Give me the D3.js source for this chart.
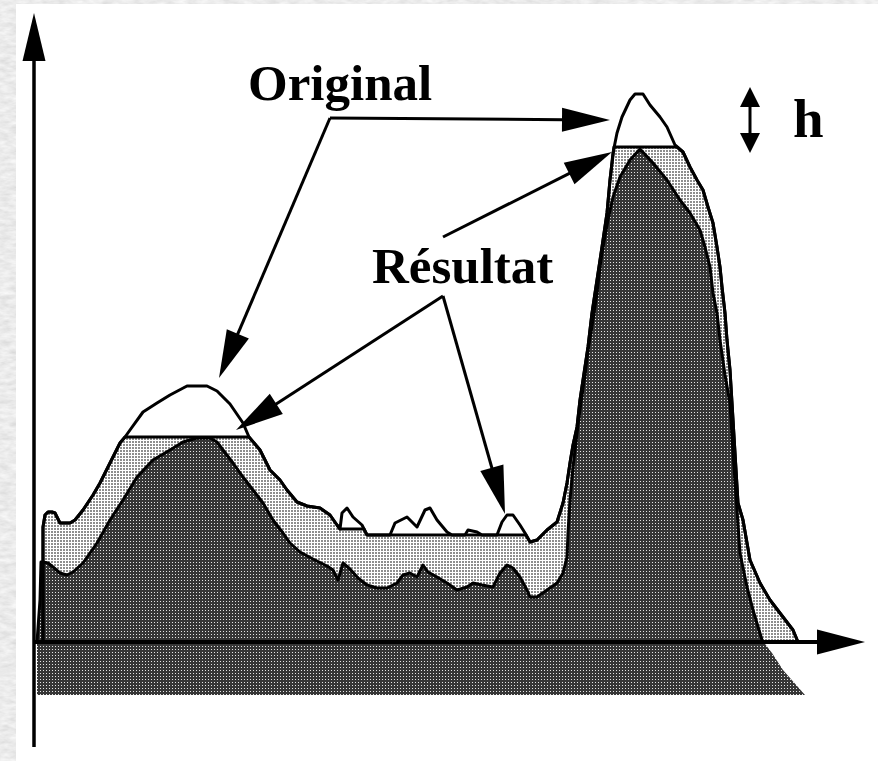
<!DOCTYPE html>
<html>
<head>
<meta charset="utf-8">
<script src="https://cdn.jsdelivr.net/npm/d3@7"></script>
<style>
  html, body { margin: 0; padding: 0; background: #fff; }
  svg { display: block; }
</style>
</head>
<body>
<svg id="chart" width="878" height="761"></svg>
<script>
// Profile of the original signal: [position, grey level]
const original = [
  [9,0],[9,115],[11,127],[14,130],[18,130],[21,129],[23,125],[26,119],[36,119],[41,122],
  [49,132],[59,147],[66,159],[76,179],[86,199],[91,205],[96,212],[109,230],[123,239],[136,247],
  [153,256],[173,256],[183,251],[196,238],[209,219],[215,205],[226,192],[236,172],[246,162],[253,152],
  [263,140],[273,136],[286,134],[296,127],[303,117],[306,113],[308,129],[313,134],[319,125],[328,117],
  [333,107],[356,107],[361,119],[373,125],[383,115],[391,132],[396,134],[403,122],[413,110],[418,107],
  [431,107],[434,112],[443,110],[448,107],[463,107],[468,120],[473,127],[479,127],[486,117],[491,109],
  [496,100],[503,102],[513,112],[523,120],[529,139],[533,159],[536,179],[539,197],[543,215],[546,242],
  [549,262],[554,295],[558,329],[563,362],[568,395],[573,429],[576,462],[579,489],[583,509],[588,525],
  [596,542],[601,548],[609,548],[616,537],[626,525],[633,515],[641,497],[649,490],[656,475],[663,462],
  [669,452],[674,435],[679,419],[683,395],[686,375],[688,355],[691,329],[693,302],[696,272],[698,239],
  [701,189],[704,139],[709,122],[716,82],[726,59],[736,42],[749,25],[759,12],[764,0]
];

// Reconstructed result: the original with its domes levelled off
const result = [
  [9,0],[9,115],[11,127],[14,130],[18,130],[21,129],[23,125],[26,119],[36,119],[41,122],
  [49,132],[59,147],[66,159],[76,179],[86,199],[91,205],[215,205],[226,192],[236,172],[246,162],[253,152],
  [263,140],[273,136],[286,134],[296,127],[303,117],[306,113],[330,113],[333,107],[492,107],
  [496,100],[503,102],[513,112],[523,120],[529,139],[533,159],[536,179],[539,197],[543,215],[546,242],
  [549,262],[554,295],[558,329],[563,362],[568,395],[573,429],[576,462],[580,495],[643,495],[649,490],
  [656,475],[663,462],[669,452],[674,435],[679,419],[683,395],[686,375],[688,355],[691,329],[693,302],
  [696,272],[698,239],[701,189],[704,139],[709,122],[716,82],[726,59],[736,42],[749,25],[759,12],[764,0]
];

// Marker: original lowered by h
const marker = [
  [3,-53],[3,0],[6,42],[7,80],[9,80],[14,79],[19,75],[26,69],[33,67],[39,70],
  [49,79],[63,99],[76,122],[89,142],[103,165],[119,182],[136,192],[149,200],[163,204],[176,204],
  [183,200],[189,192],[199,179],[209,165],[219,152],[229,139],[239,122],[249,109],[256,99],[266,90],
  [279,83],[293,76],[299,72],[304,62],[309,79],[316,73],[324,64],[333,57],[343,54],[353,54],
  [363,59],[369,67],[376,69],[383,65],[389,77],[394,70],[403,65],[413,59],[423,52],[433,55],
  [439,59],[448,57],[459,55],[466,69],[473,77],[479,74],[486,65],[493,52],[496,45],[503,45],
  [513,52],[523,59],[529,69],[533,85],[534,109],[536,142],[539,175],[541,192],[544,217],[548,247],
  [551,267],[554,292],[559,322],[563,349],[566,375],[569,395],[574,422],[579,445],[586,465],[596,482],
  [606,493],[619,479],[633,462],[646,442],[656,429],[666,412],[671,395],[676,375],[679,349],[683,329],
  [686,302],[691,267],[696,239],[699,189],[703,132],[706,89],[713,55],[719,32],[728,2],[738,-11],
  [749,-28],[771,-53]
];

const markerFloor = -53;

// Labels and callout arrows
const labels = [
  { text: "Original", at: [214, 542], size: 51 },
  { text: "Résultat", at: [338, 359], size: 51 },
  { text: "h", at: [759, 505], size: 55 }
];
const callouts = [
  { from: [296, 524], to: [576, 522] },
  { from: [296, 524], to: [185, 264] },
  { from: [409, 405], to: [578, 490] },
  { from: [409, 346], to: [202, 212] },
  { from: [409, 346], to: [471, 128] }
];
const hMarker = { x: 716, top: 555, bottom: 489 };

const svg = d3.select("#chart");
const W = 878, H = 761;

const x = d3.scaleLinear().domain([0, 830]).range([34, 864]);
const y = d3.scaleLinear().domain([0, 642]).range([642, 0]);

const defs = svg.append("defs");

// grainy frame texture
const tex = defs.append("filter").attr("id", "grain")
  .attr("x", 0).attr("y", 0).attr("width", "100%").attr("height", "100%");
tex.append("feTurbulence").attr("type", "fractalNoise")
  .attr("baseFrequency", "0.09 0.22").attr("numOctaves", 3).attr("seed", 7).attr("result", "n");
tex.append("feColorMatrix").attr("type", "matrix")
  .attr("values", "0.3 0 0 0 0.68  0.3 0 0 0 0.68  0.3 0 0 0 0.68  0 0 0 0 1");

const light = defs.append("pattern").attr("id", "lightDots")
  .attr("width", 3).attr("height", 3).attr("patternUnits", "userSpaceOnUse");
light.append("rect").attr("width", 3).attr("height", 3).attr("fill", "#ffffff");
light.append("rect").attr("width", 2).attr("height", 2).attr("fill", "#8e8e8e");

const dark = defs.append("pattern").attr("id", "darkDots")
  .attr("width", 3).attr("height", 3).attr("patternUnits", "userSpaceOnUse");
dark.append("rect").attr("width", 3).attr("height", 3).attr("fill", "#363636");
dark.append("rect").attr("x", 1).attr("y", 1).attr("width", 1).attr("height", 1).attr("fill", "#e4e4e4");

defs.append("clipPath").attr("id", "aboveAxis")
  .append("rect").attr("x", 0).attr("y", 0).attr("width", W).attr("height", y(0));

// frame and white panel
svg.append("rect").attr("width", W).attr("height", H).attr("filter", "url(#grain)");
svg.append("rect").attr("x", 16).attr("y", 4).attr("width", W - 16).attr("height", H - 4).attr("fill", "#fff");

const line = d3.line().x(d => x(d[0])).y(d => y(d[1]));

// result area
svg.append("path")
  .datum(result)
  .attr("d", d3.area().x(d => x(d[0])).y0(y(0)).y1(d => y(d[1])))
  .attr("fill", "url(#lightDots)");

// marker area
svg.append("path")
  .datum(marker)
  .attr("d", d3.area().x(d => x(d[0])).y0(y(markerFloor)).y1(d => y(d[1])))
  .attr("fill", "url(#darkDots)");

// arrow: shaft from `from` to the base of a filled head at `to`
const axisEnd = 831;
function arrow(g, from, to, len, half, width) {
  const p0 = [x(from[0]), y(from[1])], p1 = [x(to[0]), y(to[1])];
  const dx = p1[0] - p0[0], dy = p1[1] - p0[1];
  const L = Math.hypot(dx, dy), ux = dx / L, uy = dy / L;
  const bx = p1[0] - ux * len, by = p1[1] - uy * len;
  g.append("line").attr("x1", p0[0]).attr("y1", p0[1]).attr("x2", bx + ux * 2).attr("y2", by + uy * 2)
    .attr("stroke", "#000").attr("stroke-width", width);
  g.append("path")
    .attr("d", `M${p1[0]},${p1[1]}L${bx - uy * half},${by + ux * half}L${bx + uy * half},${by - ux * half}Z`)
    .attr("fill", "#000");
}

// horizontal axis
const axes = svg.append("g");
arrow(axes, [0, 0], [axisEnd, 0], 48, 12.5, 4);

// outlines
svg.append("path").datum(marker).attr("d", line)
  .attr("clip-path", "url(#aboveAxis)")
  .attr("fill", "none").attr("stroke", "#000").attr("stroke-width", 3).attr("stroke-linejoin", "round");
svg.append("path").datum(result).attr("d", line)
  .attr("fill", "none").attr("stroke", "#000").attr("stroke-width", 3).attr("stroke-linejoin", "round");
svg.append("path").datum(original).attr("d", line)
  .attr("fill", "none").attr("stroke", "#000").attr("stroke-width", 3).attr("stroke-linejoin", "round");

// vertical axis
arrow(axes, [0, -105], [0, 629], 48, 11.5, 3.5);

// callouts
const ann = svg.append("g");
callouts.forEach(c => arrow(ann, c.from, c.to, 48, 12, 3));

// h double arrow
const mid = (hMarker.top + hMarker.bottom) / 2;
arrow(ann, [hMarker.x, mid], [hMarker.x, hMarker.top], 20, 10, 3);
arrow(ann, [hMarker.x, mid], [hMarker.x, hMarker.bottom], 20, 10, 3);

ann.selectAll("text.lbl").data(labels).enter().append("text")
  .attr("class", "lbl")
  .attr("x", d => x(d.at[0]))
  .attr("y", d => y(d.at[1]))
  .attr("font-family", "'Liberation Serif', 'Times New Roman', serif")
  .attr("font-weight", "bold")
  .attr("font-size", d => d.size)
  .attr("fill", "#000")
  .text(d => d.text);
</script>
</body>
</html>
